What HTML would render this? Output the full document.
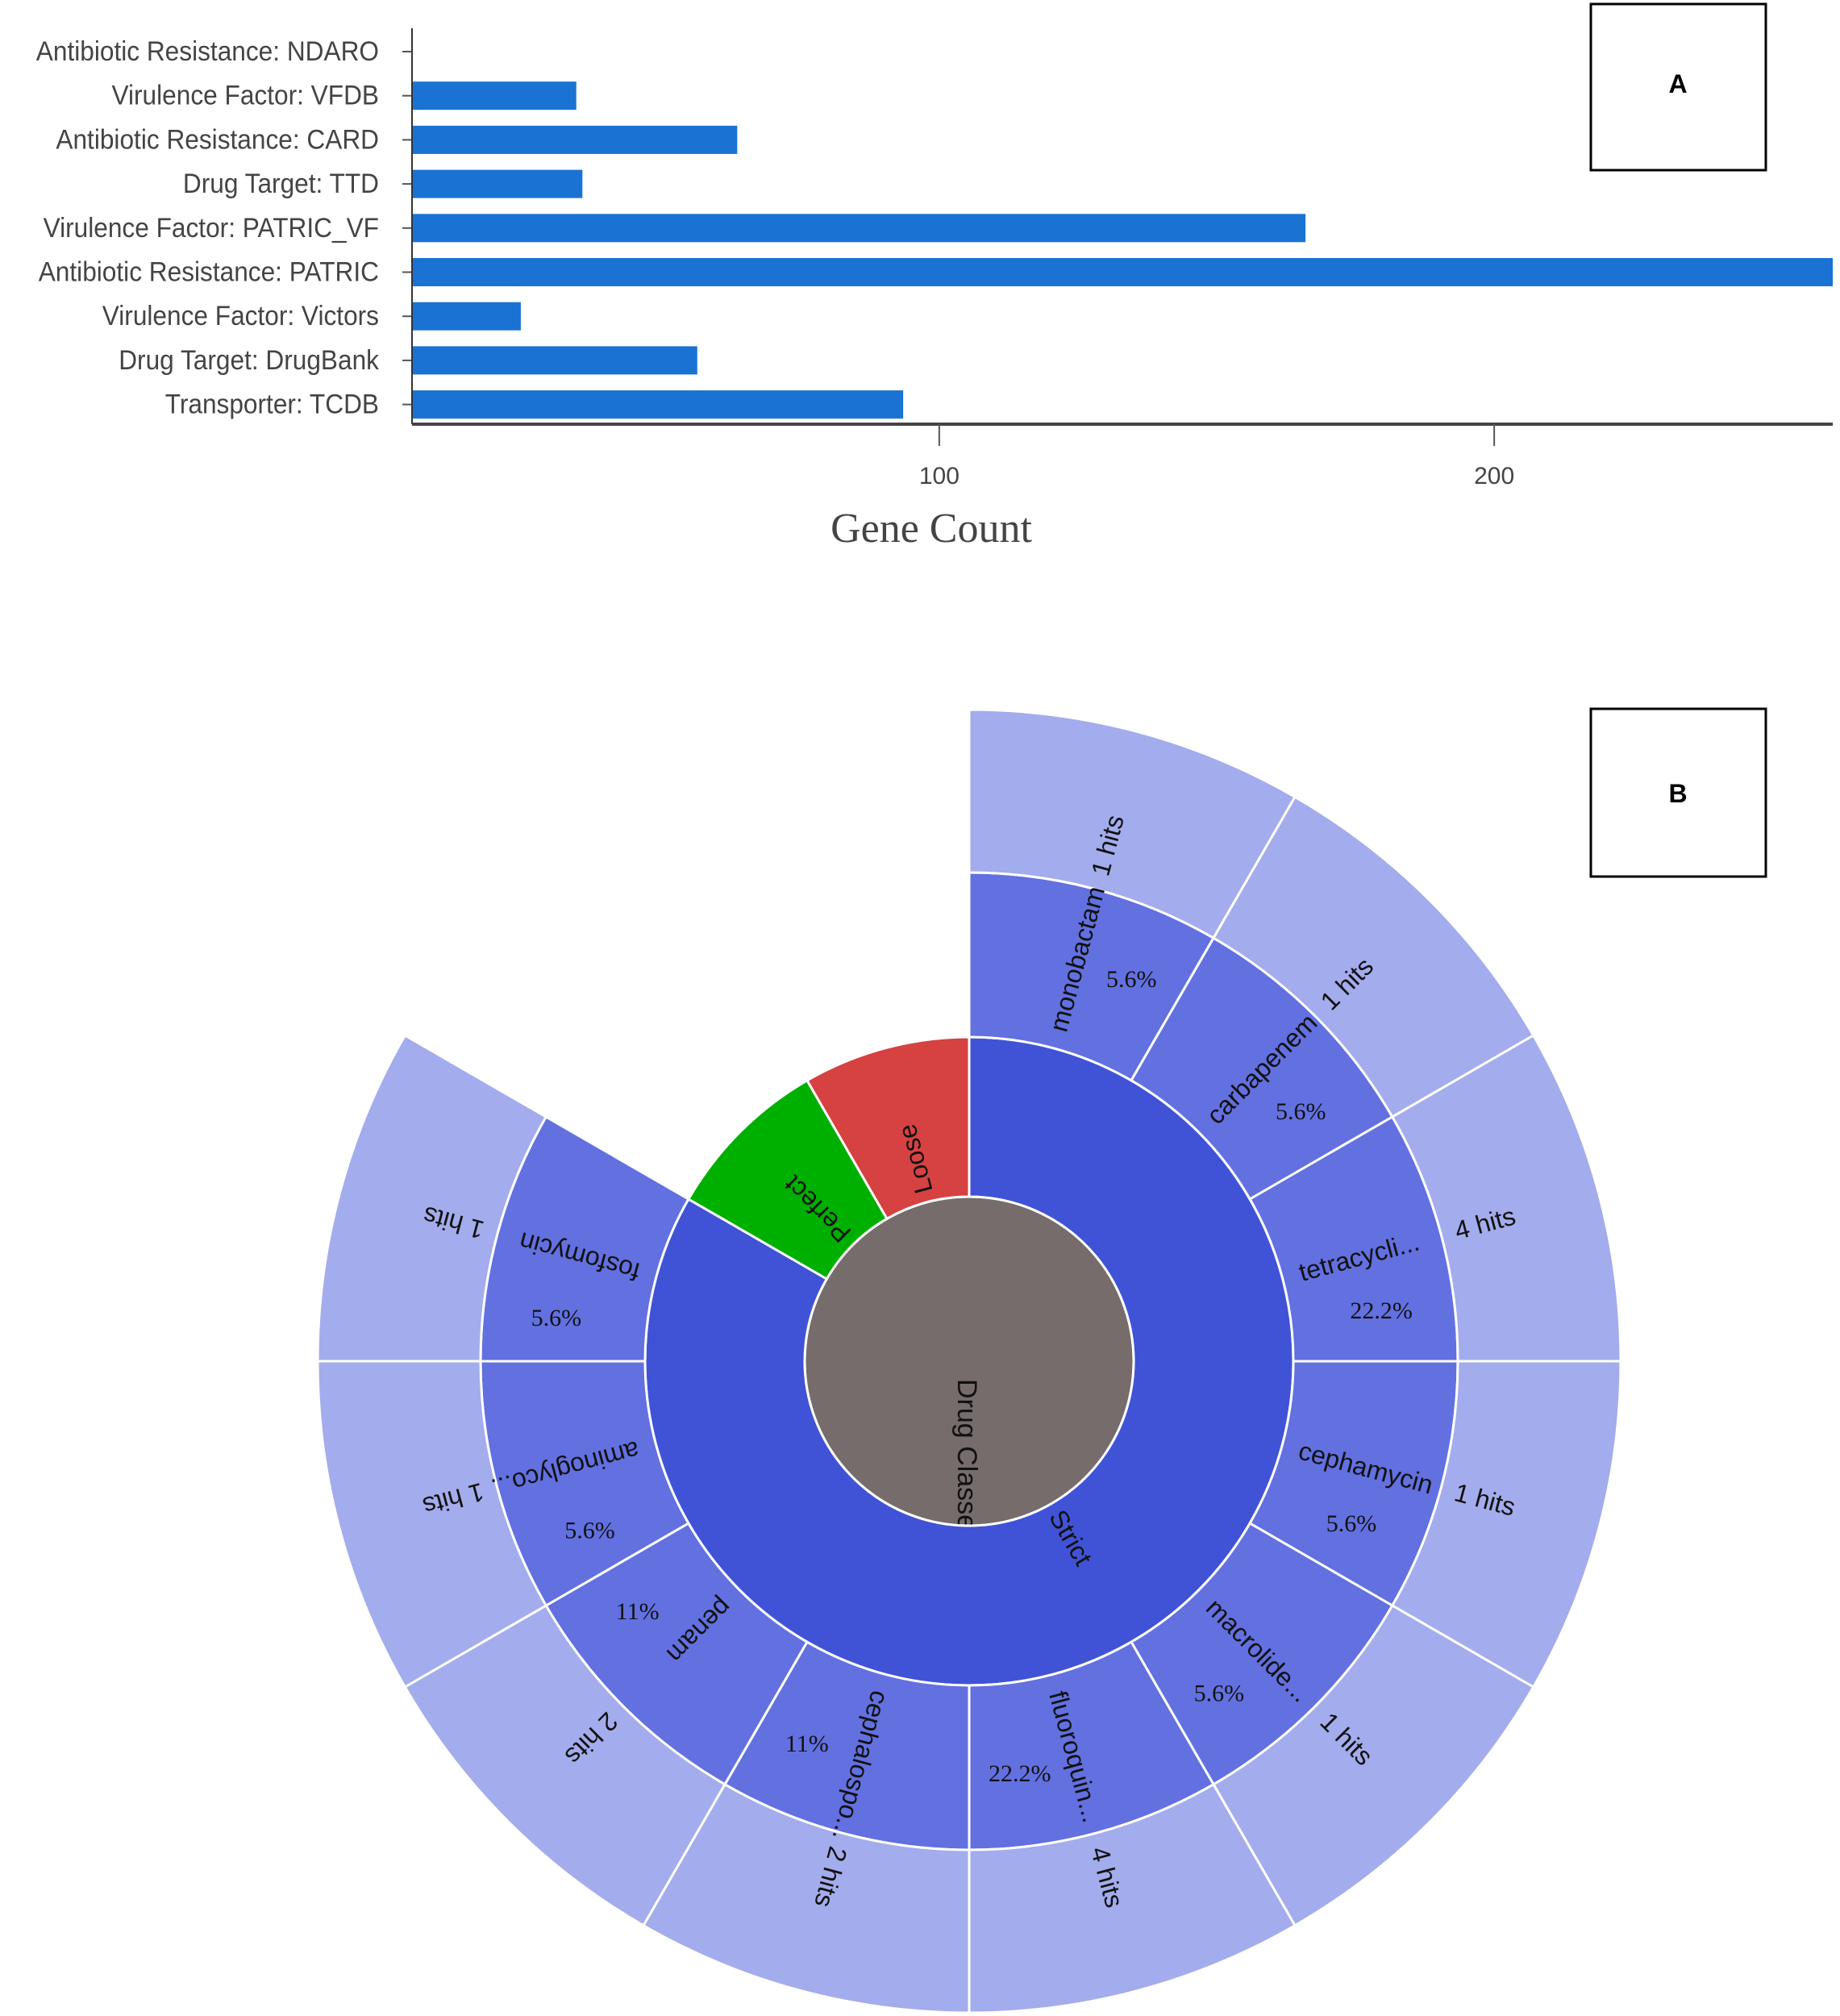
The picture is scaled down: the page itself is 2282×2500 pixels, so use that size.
<!DOCTYPE html>
<html><head><meta charset="utf-8"><style>
html,body{margin:0;padding:0;background:#fff;}
svg{display:block;}
</style></head><body>
<svg width="2282" height="2500" viewBox="0 0 2282 2500" xmlns="http://www.w3.org/2000/svg">
<g id="barchart"></g>
<rect x="1973" y="5" width="217" height="206" fill="none" stroke="#000" stroke-width="3"/>
<text x="2081" y="115" font-family="Liberation Sans, sans-serif" font-weight="bold" font-size="32" text-anchor="middle">A</text>
<rect x="1973" y="879" width="217" height="208" fill="none" stroke="#000" stroke-width="3"/>
<text x="2081" y="995" font-family="Liberation Sans, sans-serif" font-weight="bold" font-size="32" text-anchor="middle">B</text>
<defs><clipPath id="cc"><circle cx="1202" cy="1688" r="203"/></clipPath></defs>
<g id="sunburst"></g>
</svg>
<script>
const categories=["Antibiotic Resistance: NDARO","Virulence Factor: VFDB","Antibiotic Resistance: CARD","Drug Target: TTD","Virulence Factor: PATRIC_VF","Antibiotic Resistance: PATRIC","Virulence Factor: Victors","Drug Target: DrugBank","Transporter: TCDB"];
const geneCounts=[5,34.6,63.6,35.7,166,261,24.6,56.4,93.5];
const xTicks=[100,200];
const xDomain=[5,261];

const ringNames=["Strict","Perfect","Loose"];
const ringSizes=[10,1,1];
const leafNames=["monobactam","carbapenem","tetracycli...","cephamycin","macrolide...","fluoroquin...","cephalospo...","penam","aminoglyco...","fosfomycin"];
const leafHits=[1,1,4,1,1,4,2,2,1,1];
const leafPct=["5.6%","5.6%","22.2%","5.6%","5.6%","22.2%","11%","11%","5.6%","5.6%"];

const NS="http://www.w3.org/2000/svg";
function mk(tag,attrs,parent,txt){const e=document.createElementNS(NS,tag);for(const k in attrs)e.setAttribute(k,attrs[k]);if(txt!==undefined)e.textContent=txt;parent.appendChild(e);return e;}

// Bar chart
const bc=document.getElementById('barchart');
const X0=511,X1=2273;
const xs=v=>X0+(v-xDomain[0])/(xDomain[1]-xDomain[0])*(X1-X0);
const ys=i=>64+i*54.7;
categories.forEach((c,i)=>{
  const w=xs(geneCounts[i])-X0;
  if(w>0){const r=mk('rect',{x:X0,y:ys(i)-17.5,width:w,height:35,fill:'#1a73d3'},bc);
  
  }
  const t=mk('line',{x1:X0-12,x2:X0,y1:ys(i),y2:ys(i),stroke:'#555','stroke-width':2},bc);
  
  
  const l=mk('text',{x:0,y:11,'text-anchor':'end','font-family':'Liberation Sans, sans-serif','font-size':34,fill:'#444',transform:`translate(470 ${ys(i)}) scale(0.93 1)`},bc,c);
  
  
});
const ya=mk('line',{x1:X0,x2:X0,y1:35,y2:526,stroke:'#333','stroke-width':2},bc);


const xa=mk('line',{x1:X0,x2:X1,y1:526,y2:526,stroke:'#444','stroke-width':4},bc);


xTicks.forEach(v=>{
  const t=mk('line',{x1:xs(v),x2:xs(v),y1:526,y2:553,stroke:'#555','stroke-width':2},bc);
  
  
  const l=mk('text',{x:xs(v),y:600,'text-anchor':'middle','font-family':'Liberation Sans, sans-serif','font-size':30,fill:'#444'},bc,String(v));
  
  
});
const xt=mk('text',{x:1155,y:672,'text-anchor':'middle','font-family':'Liberation Serif, serif','font-size':52,fill:'#444'},bc,'Gene Count');



// Sunburst
const sb=document.getElementById('sunburst');
const CX=1202,CY=1688;
const R=[204,402,606,808];
const rad=d=>(d-90)*Math.PI/180;
function pt(a,r){return [CX+r*Math.cos(rad(a)),CY+r*Math.sin(rad(a))];}
function arc(a0,a1,r0,r1){const p0=pt(a0,r1),p1=pt(a1,r1),p2=pt(a1,r0),p3=pt(a0,r0);const lg=(a1-a0)>180?1:0;
 return `M${p0[0]},${p0[1]}A${r1},${r1} 0 ${lg} 1 ${p1[0]},${p1[1]}L${p2[0]},${p2[1]}A${r0},${r0} 0 ${lg} 0 ${p3[0]},${p3[1]}Z`;}
function radText(a,r,txt,size,font,name){
  const p=pt(a,r);
  const t=mk('text',{x:0,y:0,dy:'0.35em','font-family':font,'font-size':size,fill:'#111',transform:`translate(${p[0]} ${p[1]}) rotate(${a-90})`},sb,txt);
  
  
  return t;
}
const center=mk('circle',{cx:CX,cy:CY,r:R[0],fill:'#756c6b',stroke:'#fff','stroke-width':3},sb);


const cg=mk('g',{'clip-path':'url(#cc)'},sb);


const ct=mk('text',{x:0,y:0,dy:'0.35em','font-family':'Liberation Sans, sans-serif','font-size':34,fill:'#111',transform:`translate(${CX-2} ${CY+22}) rotate(90)`},cg,'Drug Classes');



const totalRing=ringSizes.reduce((a,b)=>a+b,0);
const ringColors=['#4053d6','#00b000','#d64141'];
let acc=0;
ringNames.forEach((n,i)=>{
  const a0=acc/totalRing*360,a1=(acc+ringSizes[i])/totalRing*360;
  const p=mk('path',{d:arc(a0,a1,R[0],R[1]),fill:ringColors[i],stroke:'#fff','stroke-width':3},sb);
  
  
  acc+=ringSizes[i];
});
const strictSpan=ringSizes[0]/totalRing*360;
leafNames.forEach((n,i)=>{
  const a0=i/leafNames.length*strictSpan,a1=(i+1)/leafNames.length*strictSpan;
  const p=mk('path',{d:arc(a0,a1,R[1],R[2]),fill:'#6270e0',stroke:'#fff','stroke-width':3},sb);
  
  
  const q=mk('path',{d:arc(a0,a1,R[2],R[3]),fill:'#a3acec',stroke:'#fff','stroke-width':3},sb);
  
  
});
acc=0;
ringNames.forEach((n,i)=>{
  const mid=(acc+ringSizes[i]/2)/totalRing*360;
  radText(mid,216,n,32,'Liberation Sans, sans-serif','ring-label');
  acc+=ringSizes[i];
});
leafNames.forEach((n,i)=>{
  const a0=i/leafNames.length*strictSpan,a1=(i+1)/leafNames.length*strictSpan;
  const mid=(a0+a1)/2;
  radText(mid,424,n,32,'Liberation Sans, sans-serif','class-label');
  radText(mid,624,leafHits[i]+' hits',32,'Liberation Sans, sans-serif','hits-label');
  const pa=mid+(mid>240?-9:8);const pp=pt(pa,515);
  const t=mk('text',{x:pp[0],y:pp[1]+10,'text-anchor':'middle','font-family':'Liberation Serif, serif','font-size':30,fill:'#111'},sb,leafPct[i]);
  
  
});
</script>
</body></html>
